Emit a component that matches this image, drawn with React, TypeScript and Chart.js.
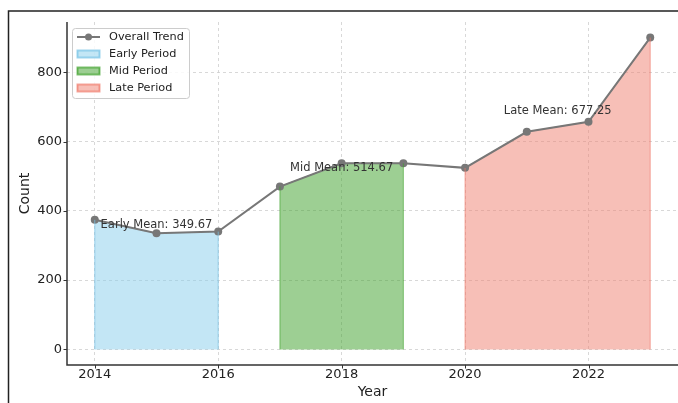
import React, { useEffect, useRef } from 'react';
import { Chart, registerables } from 'chart.js';

Chart.register(...registerables);

const years = [2014, 2015, 2016, 2017, 2018, 2019, 2020, 2021, 2022, 2023];
const counts = [374, 335, 340, 470, 537, 537, 524, 628, 657, 900];
const xTicks = [2014, 2016, 2018, 2020, 2022];
const yTicks = [0, 200, 400, 600, 800];
const periodNames = ['Early Period', 'Mid Period', 'Late Period'];
const periodShort = ['Early', 'Mid', 'Late'];
const periodStart = [2014, 2017, 2020];
const periodEnd = [2016, 2019, 2023];
const periodFills = ['rgba(135,206,235,0.5)', 'rgba(60,160,40,0.5)', 'rgba(240,128,112,0.5)'];
const periodEdges = ['rgba(120,195,230,0.7)', 'rgba(60,160,40,0.65)', 'rgba(240,120,105,0.65)'];
const trendName = 'Overall Trend';

const FONT = '"DejaVu Sans", sans-serif';
const TREND_COLOR = '#777777';

function periodIdx(p: number) {
  const out: number[] = [];
  years.forEach((y, i) => {
    if (y >= periodStart[p] && y <= periodEnd[p]) out.push(i);
  });
  return out;
}

const decor = {
  id: 'decor',
  beforeDraw(chart: any) {
    const ctx = chart.ctx;
    ctx.save();
    ctx.fillStyle = '#ffffff';
    ctx.fillRect(0, 0, chart.width, chart.height);
    ctx.strokeStyle = '#222222';
    ctx.lineWidth = 1.5;
    ctx.beginPath();
    ctx.moveTo(8.5, chart.height);
    ctx.lineTo(8.5, 11);
    ctx.lineTo(chart.width, 11);
    ctx.stroke();
    ctx.restore();
  },
  afterDatasetsDraw(chart: any) {
    const ctx = chart.ctx;
    const xs = chart.scales.x;
    const ys = chart.scales.y;
    ctx.save();
    ctx.lineWidth = 1;
    periodNames.forEach((_, p) => {
      const idx = periodIdx(p);
      ctx.strokeStyle = periodEdges[p];
      [idx[0], idx[idx.length - 1]].forEach((i) => {
        const px = xs.getPixelForValue(years[i]);
        ctx.beginPath();
        ctx.moveTo(px, ys.getPixelForValue(0));
        ctx.lineTo(px, ys.getPixelForValue(counts[i]));
        ctx.stroke();
      });
    });
    ctx.font = '11.5px ' + FONT;
    ctx.fillStyle = '#333333';
    ctx.textAlign = 'center';
    ctx.textBaseline = 'middle';
    periodNames.forEach((_, p) => {
      const idx = periodIdx(p);
      const mean = idx.reduce((s, i) => s + counts[i], 0) / idx.length;
      const xm = idx.reduce((s, i) => s + years[i], 0) / idx.length;
      ctx.fillText(
        periodShort[p] + ' Mean: ' + mean.toFixed(2),
        xs.getPixelForValue(xm),
        ys.getPixelForValue(mean + 10)
      );
    });
    ctx.restore();
  },
  afterDraw(chart: any) {
    const ctx = chart.ctx;
    const xs = chart.scales.x;
    const ys = chart.scales.y;
    const a = chart.chartArea;
    ctx.save();
    ctx.strokeStyle = '#333333';
    ctx.lineWidth = 1.5;
    ctx.beginPath();
    ctx.moveTo(a.left, a.top);
    ctx.lineTo(a.left, a.bottom);
    ctx.lineTo(a.right, a.bottom);
    ctx.stroke();
    ctx.lineWidth = 1;
    yTicks.forEach((v) => {
      const py = Math.round(ys.getPixelForValue(v)) + 0.5;
      ctx.beginPath();
      ctx.moveTo(a.left - 3.5, py);
      ctx.lineTo(a.left, py);
      ctx.stroke();
    });
    xTicks.forEach((v) => {
      const px = Math.round(xs.getPixelForValue(v)) + 0.5;
      ctx.beginPath();
      ctx.moveTo(px, a.bottom);
      ctx.lineTo(px, a.bottom + 3.5);
      ctx.stroke();
    });
    const lx = a.left + 5;
    const ly = a.top + 6;
    const lw = 117;
    const lh = 70;
    ctx.fillStyle = 'rgba(255,255,255,0.85)';
    ctx.strokeStyle = '#cccccc';
    ctx.lineWidth = 1;
    ctx.beginPath();
    (ctx as any).roundRect(lx + 0.5, ly + 0.5, lw, lh, 3);
    ctx.fill();
    ctx.stroke();
    const rowY = (r: number) => ly + 9 + r * 17;
    const hx = lx + 5;
    const hw = 23;
    ctx.strokeStyle = TREND_COLOR;
    ctx.lineWidth = 2;
    ctx.beginPath();
    ctx.moveTo(hx, rowY(0));
    ctx.lineTo(hx + hw, rowY(0));
    ctx.stroke();
    ctx.fillStyle = TREND_COLOR;
    ctx.beginPath();
    ctx.arc(hx + hw / 2, rowY(0), 3.5, 0, Math.PI * 2);
    ctx.fill();
    periodNames.forEach((_, p) => {
      ctx.fillStyle = periodFills[p];
      ctx.strokeStyle = periodEdges[p];
      ctx.fillRect(hx, rowY(p + 1) - 3.5, hw, 7);
      ctx.strokeRect(hx + 0.5, rowY(p + 1) - 3.5, hw - 1, 7);
    });
    ctx.font = '11.3px ' + FONT;
    ctx.fillStyle = '#222222';
    ctx.textAlign = 'left';
    ctx.textBaseline = 'middle';
    [trendName, ...periodNames].forEach((t, r) => {
      ctx.fillText(t, lx + 37, rowY(r) + 0.5);
    });
    ctx.restore();
  },
};

export default function App() {
  const ref = useRef<HTMLCanvasElement | null>(null);
  useEffect(() => {
    if (!ref.current) return;
    const datasets: any[] = [
      {
        label: trendName,
        data: years.map((y, i) => ({ x: y, y: counts[i] })),
        borderColor: TREND_COLOR,
        backgroundColor: TREND_COLOR,
        borderWidth: 2,
        pointRadius: 4,
        pointBackgroundColor: TREND_COLOR,
        pointBorderWidth: 0,
        fill: false,
        order: 0,
      },
      ...periodNames.map((name, p) => ({
        label: name,
        data: periodIdx(p).map((i) => ({ x: years[i], y: counts[i] })),
        borderColor: periodEdges[p],
        backgroundColor: periodFills[p],
        borderWidth: 1,
        pointRadius: 0,
        fill: 'origin',
        order: 1,
      })),
    ];
    const gridCommon = { color: '#cfcfcf', lineWidth: 0.8, drawTicks: false };
    const chart = new Chart(ref.current, {
      type: 'line',
      data: { datasets },
      plugins: [decor],
      options: {
        animation: false,
        responsive: false,
        devicePixelRatio: 1,
        layout: { autoPadding: false, padding: { top: 22, right: 0, left: 0, bottom: 0 } },
        plugins: { legend: { display: false }, tooltip: { enabled: false } },
        scales: {
          x: {
            type: 'linear',
            min: 2013.55,
            max: 2023.45,
            afterBuildTicks: (s: any) => {
              s.ticks = xTicks.map((v) => ({ value: v }));
            },
            afterFit: (s: any) => {
              s.height = 38;
              s.paddingLeft = 0;
              s.paddingRight = 0;
            },
            ticks: {
              callback: (v: any) => String(v),
              font: { family: FONT, size: 13 },
              color: '#222222',
              padding: 2,
              maxRotation: 0,
              autoSkip: false,
            },
            grid: gridCommon,
            border: { display: false, dash: [3, 3] },
            title: {
              display: true,
              text: 'Year',
              font: { family: FONT, size: 14 },
              color: '#222222',
              padding: { top: 0, bottom: 2 },
            },
          },
          y: {
            type: 'linear',
            min: -45,
            max: 945,
            afterBuildTicks: (s: any) => {
              s.ticks = yTicks.map((v) => ({ value: v }));
            },
            afterFit: (s: any) => {
              s.width = 67;
              s.paddingTop = 0;
              s.paddingBottom = 0;
            },
            ticks: {
              callback: (v: any) => String(v),
              font: { family: FONT, size: 13 },
              color: '#222222',
              padding: 5,
            },
            grid: gridCommon,
            border: { display: false, dash: [3, 3] },
            title: {
              display: true,
              text: 'Count',
              font: { family: FONT, size: 14 },
              color: '#222222',
              padding: { top: 16.6, bottom: 0 },
            },
          },
        },
      } as any,
    });
    return () => chart.destroy();
  }, []);
  return (
    <div style={{ position: 'fixed', left: 0, top: 0, width: 678, height: 403 }}>
      <canvas ref={ref} width={678} height={403} style={{ display: 'block' }} />
    </div>
  );
}
